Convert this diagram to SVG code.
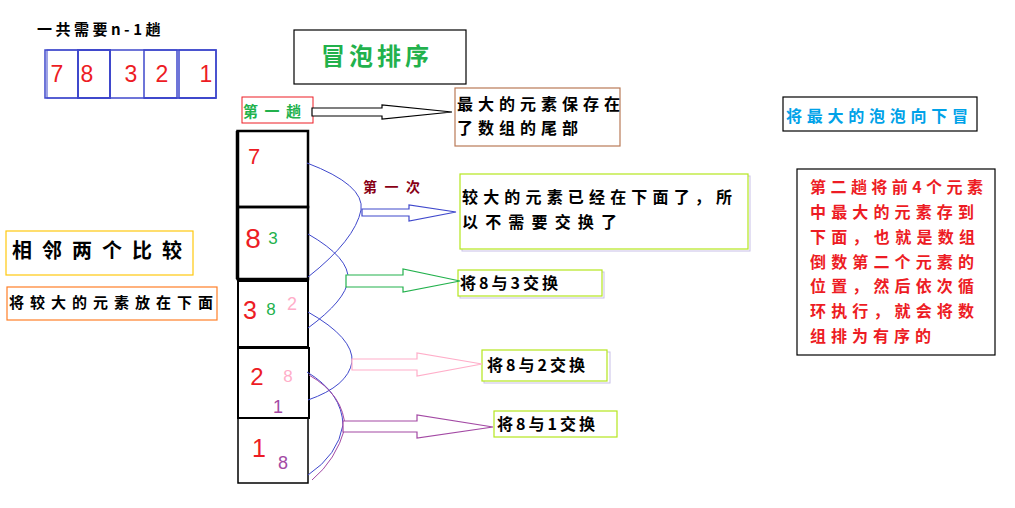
<svg xmlns="http://www.w3.org/2000/svg" width="1015" height="508" viewBox="0 0 1015 508">
<style>
.cn{font-family:"Noto Sans CJK SC","Noto Sans",sans-serif;font-weight:bold;}
.num{font-family:"Liberation Sans",Arial,sans-serif;}
.big{font-size:23px;fill:#ed1c24;}
.sm{font-size:17px;}
.sw{font-size:16px;fill:#000;letter-spacing:3px;}
.arr{fill:#ffffff;stroke-width:1.2;}
.cur{fill:none;stroke:#3f48cc;stroke-width:1;}
</style>
<rect width="1015" height="508" fill="#ffffff"/>

<g id="title-n1">
<text class="cn" x="37" y="35" font-size="15" fill="#000" letter-spacing="3.5">一共需要n-1趟</text>
</g>

<g id="array">
<rect x="45" y="50" width="171" height="48" fill="none" stroke="#3f48cc" stroke-width="1.5"/>
<rect x="47" y="50" width="31" height="48" fill="none" stroke="#3f48cc" stroke-width="1"/>
<rect x="78" y="50" width="32" height="48" fill="none" stroke="#3f48cc" stroke-width="2"/>
<rect x="144" y="50" width="33" height="48" fill="none" stroke="#3f48cc" stroke-width="1.5"/>
<line x1="144" y1="98" x2="177" y2="98" stroke="#3f48cc" stroke-width="2"/>
<rect x="179" y="50" width="37" height="48" fill="none" stroke="#3f48cc" stroke-width="1.5"/>
<line x1="179" y1="98" x2="216" y2="98" stroke="#3f48cc" stroke-width="2"/>
<text class="num big" x="57" y="82" text-anchor="middle">7</text>
<text class="num big" x="87" y="82" text-anchor="middle">8</text>
<text class="num big" x="131" y="82" text-anchor="middle">3</text>
<text class="num big" x="162" y="82" text-anchor="middle">2</text>
<text class="num big" x="206" y="82" text-anchor="middle">1</text>
</g>

<g id="title">
<rect x="294" y="30" width="172" height="54" fill="none" stroke="#000" stroke-width="1.2"/>
<text class="cn" x="321" y="65" font-size="24" fill="#22b14c" textLength="108" lengthAdjust="spacing">冒泡排序</text>
</g>

<g id="pass1">
<rect x="242" y="97" width="71" height="26" fill="none" stroke="#ed1c24" stroke-width="1"/>
<text class="cn" x="243" y="117" font-size="15" fill="#22b14c" textLength="58" lengthAdjust="spacing">第一趟</text>
</g>

<g id="maxsaved">
<rect x="455" y="88" width="165" height="58" fill="none" stroke="#b97a57" stroke-width="1.2"/>
<text class="cn" x="457" y="110" font-size="16" fill="#000" textLength="163" lengthAdjust="spacing">最大的元素保存在</text>
<text class="cn" x="457" y="134" font-size="16" fill="#000" textLength="121" lengthAdjust="spacing">了数组的尾部</text>
</g>

<g id="bubble-down">
<rect x="783" y="97" width="194" height="34" fill="none" stroke="#000" stroke-width="1.2"/>
<text class="cn" x="786" y="122" font-size="16" fill="#00a2e8" textLength="182" lengthAdjust="spacing">将最大的泡泡向下冒</text>
</g>

<g id="pass2">
<rect x="797" y="169" width="198" height="186" fill="none" stroke="#000" stroke-width="1.2"/>
<g class="cn" font-size="16" fill="#ed1c24">
<text x="810" y="193" textLength="173" lengthAdjust="spacing">第二趟将前4个元素</text>
<text x="810" y="218" textLength="164" lengthAdjust="spacing">中最大的元素存到</text>
<text x="810" y="243" textLength="165" lengthAdjust="spacing">下面，也就是数组</text>
<text x="810" y="268" textLength="164" lengthAdjust="spacing">倒数第二个元素的</text>
<text x="810" y="292" textLength="164" lengthAdjust="spacing">位置，然后依次循</text>
<text x="810" y="317" textLength="164" lengthAdjust="spacing">环执行，就会将数</text>
<text x="810" y="342" textLength="121" lengthAdjust="spacing">组排为有序的</text>
</g>
</g>

<g id="adjacent">
<rect x="6" y="231" width="187" height="44" fill="none" stroke="#ffc90e" stroke-width="1.2"/>
<text class="cn" x="12" y="258" font-size="20" fill="#000" textLength="170" lengthAdjust="spacing">相邻两个比较</text>
</g>

<g id="larger-below">
<rect x="7" y="287" width="210" height="33" fill="none" stroke="#ff7f27" stroke-width="1.2"/>
<text class="cn" x="9" y="308" font-size="15" fill="#000" textLength="204" lengthAdjust="spacing">将较大的元素放在下面</text>
</g>

<g id="column">
<rect x="237.5" y="131" width="70.5" height="76" fill="none" stroke="#000" stroke-width="2.5"/>
<line x1="237.5" y1="131" x2="237.5" y2="279" stroke="#000" stroke-width="3.5"/>
<rect x="237.5" y="207" width="70.5" height="72" fill="none" stroke="#000" stroke-width="2.5"/>
<rect x="238" y="281" width="70" height="66" fill="none" stroke="#000" stroke-width="2"/>
<rect x="238" y="348" width="71" height="70" fill="none" stroke="#000" stroke-width="2"/>
<rect x="238" y="418" width="70" height="65" fill="none" stroke="#000" stroke-width="1.5"/>
<text class="num" font-size="22" fill="#ed1c24" x="254" y="164" text-anchor="middle">7</text>
<text class="num" font-size="28" fill="#ed1c24" x="253" y="248" text-anchor="middle">8</text>
<text class="num sm" x="273" y="244" text-anchor="middle" fill="#22b14c">3</text>
<text class="num" font-size="25" fill="#ed1c24" x="250" y="319" text-anchor="middle">3</text>
<text class="num sm" x="271" y="315" text-anchor="middle" fill="#22b14c">8</text>
<text class="num" font-size="18" x="292" y="310" text-anchor="middle" fill="#ffaec9">2</text>
<text class="num" font-size="24" fill="#ed1c24" x="257" y="385" text-anchor="middle">2</text>
<text class="num" font-size="17" x="288" y="382" text-anchor="middle" fill="#ffaec9">8</text>
<text class="num" font-size="18" x="278" y="413" text-anchor="middle" fill="#a349a4">1</text>
<text class="num" font-size="25" fill="#ed1c24" x="259" y="457" text-anchor="middle">1</text>
<text class="num" font-size="18" x="283" y="469" text-anchor="middle" fill="#a349a4">8</text>
</g>

<g id="first-time">
<text class="cn" x="363" y="192" font-size="14" fill="#880015" textLength="57" lengthAdjust="spacing">第一次</text>
</g>

<g id="no-swap">
<rect x="462" y="176" width="288" height="75" fill="none" stroke="#c8bfe7" stroke-width="1"/>
<rect x="460" y="174" width="288" height="75" fill="#ffffff" stroke="#b5e61d" stroke-width="1.2"/>
<text class="cn" x="462" y="203" font-size="16" fill="#000" textLength="270" lengthAdjust="spacing">较大的元素已经在下面了，所</text>
<text class="cn" x="462" y="228" font-size="16" fill="#000" textLength="155" lengthAdjust="spacing">以不需要交换了</text>
</g>

<g id="swap83">
<rect x="460" y="272" width="144" height="26" fill="none" stroke="#c8bfe7" stroke-width="1"/>
<rect x="458" y="270" width="144" height="26" fill="#ffffff" stroke="#b5e61d" stroke-width="1.2"/>
<text class="cn sw" x="460" y="289">将8与3交换</text>
</g>

<g id="swap82">
<rect x="484" y="352" width="126" height="31" fill="none" stroke="#c8bfe7" stroke-width="1"/>
<rect x="482" y="350" width="125" height="31" fill="#ffffff" stroke="#b5e61d" stroke-width="1.2"/>
<text class="cn sw" x="487" y="371">将8与2交换</text>
</g>

<g id="swap81">
<rect x="494" y="411" width="123" height="26" fill="#ffffff" stroke="#b5e61d" stroke-width="1.2"/>
<text class="cn sw" x="497" y="430">将8与1交换</text>
</g>

<g id="connectors">
<polygon class="arr" stroke="#000" points="312,108 382,108 382,105 452,112 382,119 382,116 312,116"/>
<path class="cur" d="M307,163 Q365,185 361,210 Q355,240 308,277"/>
<path class="cur" d="M308,234 Q350,258 348,280 Q346,300 308,328"/>
<path class="cur" d="M308,312 Q354,338 352,362 Q348,386 308,400"/>
<path class="cur" d="M307,372 Q342,393 343,425 Q338,455 308,475"/>
<path fill="none" stroke="#a349a4" stroke-width="1" d="M309,375 Q344,395 345,428 Q336,460 312,480"/>
<polygon class="arr" stroke="#3f48cc" points="362,209 409,209 409,205 456,212 409,221 409,216 362,216"/>
<polygon class="arr" stroke="#22b14c" points="346,275 403,275 403,269 460,281 403,292 403,287 346,287"/>
<polygon class="arr" stroke="#ffaec9" points="352,359 417,359 417,353 482,364 417,376 417,370 352,370"/>
<polygon class="arr" stroke="#a349a4" points="343,421 417,421 417,415 493,427 417,438 417,432 343,432"/>
</g>
</svg>
